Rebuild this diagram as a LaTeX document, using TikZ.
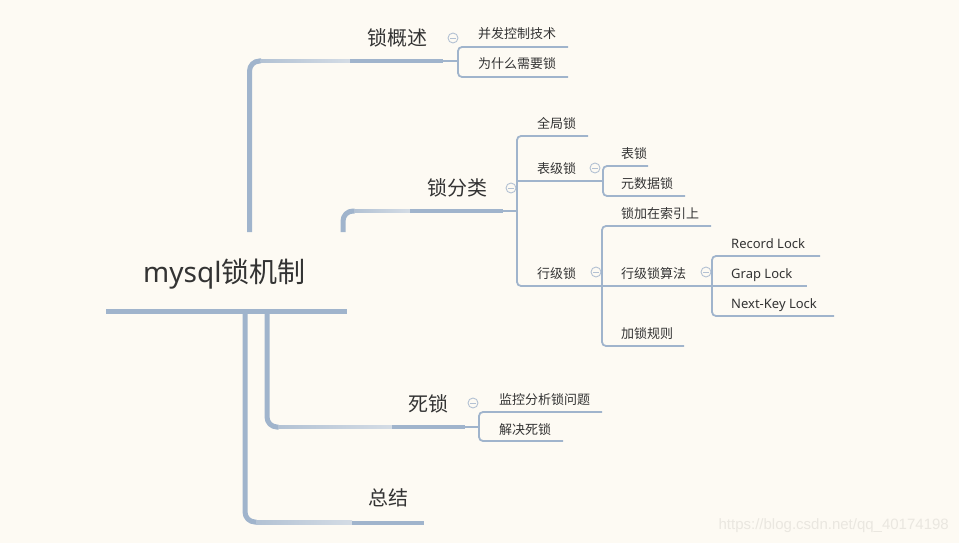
\documentclass[tikz,border=0pt]{standalone}
\usepackage{fontspec}
\usetikzlibrary{calc}
\setmainfont{Noto Sans CJK SC}
\newfontfamily\lat{Noto Sans}
\newfontfamily\wmfont{Liberation Sans}
\definecolor{bg}{HTML}{FDFAF3}
\definecolor{ln}{HTML}{A0B4CC}
\definecolor{lnlight}{HTML}{D4DCE5}
\definecolor{txt}{HTML}{333333}
\definecolor{circ}{HTML}{B3C1D3}
\definecolor{wmc}{HTML}{EAE7E0}
\tikzset{
  rootlabel/.style={font=\fontsize{28}{30}\selectfont, text=txt, inner sep=0pt, anchor=base west},
  mainlabel/.style={font=\fontsize{20}{22}\selectfont, text=txt, inner sep=0pt, anchor=base west},
  sublabel/.style={font=\fontsize{13}{15}\selectfont, text=txt, inner sep=0pt, anchor=base west},
  trunk/.style={draw=ln, line width=5pt, rounded corners=10pt},
  underline/.style={draw=ln, line width=4.5pt},
  twig/.style={draw=ln, line width=1.8pt, rounded corners=4pt},
  taper/.style={left color=ln!80!bg, right color=lnlight},
  collapse/.style={circle, draw=circ, line width=0.9pt, minimum size=10pt, inner sep=0pt,
    path picture={\draw[circ, line width=0.9pt] ([xshift=-2.6pt]path picture bounding box.center) -- ([xshift=2.6pt]path picture bounding box.center);}},
  watermark/.style={font=\wmfont\fontsize{15}{17}\selectfont, text=wmc, inner sep=0pt, anchor=base east}
}
\begin{document}
\begin{tikzpicture}[x=1pt,y=-1pt]
\fill[bg] (0,0) rectangle (959,543);
\useasboundingbox (0,0) rectangle (959,543);

% ---------- labels ----------
\node[rootlabel] (root) at (143,282) {{\lat mysql}锁机制};
\node[mainlabel] (gs) at (367,45.7) {锁概述};
\node[mainlabel] (fl) at (427,195.4) {锁分类};
\node[mainlabel] (sl) at (408,411) {死锁};
\node[mainlabel] (zj) at (368,505) {总结};

\node[sublabel] (bf) at (478,39) {并发控制技术};
\node[sublabel] (wsm) at (478,69) {为什么需要锁};
\node[sublabel] (qj) at (537,128.5) {全局锁};
\node[sublabel] (bj) at (537,173) {表级锁};
\node[sublabel] (bs) at (621,158) {表锁};
\node[sublabel] (ys) at (621,188) {元数据锁};
\node[sublabel] (hj) at (537,278) {行级锁};
\node[sublabel] (sy) at (621,218.5) {锁加在索引上};
\node[sublabel] (sf) at (621,278) {行级锁算法};
\node[sublabel] (gz) at (621,338) {加锁规则};
\node[sublabel] (rl) at (731,248.5) {\lat Record Lock};
\node[sublabel] (gl) at (731,278.5) {\lat Grap Lock};
\node[sublabel] (nk) at (731,308.5) {\lat Next-Key Lock};
\node[sublabel] (jk) at (499,404.5) {监控分析锁问题};
\node[sublabel] (jj) at (499,434) {解决死锁};

% ---------- collapse markers ----------
\node[collapse] (c1) at (453,38) {};
\node[collapse] (c2) at (511,188) {};
\node[collapse] (c3) at (595,168) {};
\node[collapse] (c4) at (596,272) {};
\node[collapse] (c5) at (706,272) {};
\node[collapse] (c6) at (473,403) {};

% ---------- coordinates ----------
\coordinate (rootA) at (106,311.5);  \coordinate (rootB) at (347,311.5);
\coordinate (t1s) at (249.5,232);    \coordinate (t1c) at (261,61);
\coordinate (t2s) at (343,232);      \coordinate (t2c) at (354.5,211);
\coordinate (t3s) at (267,314);      \coordinate (t3c) at (278.5,427);
\coordinate (t4s) at (245,314);      \coordinate (t4c) at (256.5,522);

\coordinate (gsA) at (350,61);  \coordinate (gsB) at (443,61);  \coordinate (gsJ) at (458,61);
\coordinate (flA) at (410,211); \coordinate (flB) at (503,211); \coordinate (flJ) at (517,211);
\coordinate (slA) at (392,427); \coordinate (slB) at (465,427); \coordinate (slJ) at (479,427);
\coordinate (zjA) at (352,523); \coordinate (zjB) at (424,523);

% root underline
\draw[underline] (rootA) -- (rootB);

% trunks from root
\draw[trunk] (t1s) |- (t1c);
\shade[taper] ($(t1c)+(-0.5,-1.1)$) rectangle ($(gsA)+(0,1.1)$);
\draw[trunk] (t2s) |- (t2c);
\shade[taper] ($(t2c)+(-0.5,-1.1)$) rectangle ($(flA)+(0,1.1)$);
\draw[trunk] (t3s) |- (t3c);
\shade[taper] ($(t3c)+(-0.5,-1.1)$) rectangle ($(slA)+(0,1.1)$);
\draw[trunk] (t4s) |- (t4c);
\shade[taper] ($(t4c)+(-0.5,-1.1)$) rectangle ($(zjA)+(0,1.1)$);

% main-topic underlines
\draw[underline] (gsA) -- (gsB);
\draw[underline] (flA) -- (flB);
\draw[underline] (slA) -- (slB);
\draw[underline] (zjA) -- (zjB);

% 锁概述 children
\draw[twig] (gsB) -- (gsJ);
\draw[twig] (568,47) -- (458,47) -- (458,77) -- (568,77);

% 锁分类 children
\draw[twig] (flB) -- (flJ);
\draw[twig] (588,136) -- (517,136) -- (517,286) -- (602,286);
\draw[twig] (517,181) -- (603,181);
\draw[twig] (648,166) -- (603,166) -- (603,196) -- (685,196);
\draw[twig] (711,226) -- (602,226) -- (602,346) -- (684,346);
\draw[twig] (602,286) -- (712,286);
\draw[twig] (820,256) -- (712,256) -- (712,316) -- (834,316);
\draw[twig] (712,286) -- (807,286);

% 死锁 children
\draw[twig] (slB) -- (slJ);
\draw[twig] (602,412) -- (479,412) -- (479,441) -- (563,441);

% watermark
\node[watermark] (wm) at (949,529.3) {https://blog.csdn.net/qq\_40174198};
\end{tikzpicture}
\end{document}
